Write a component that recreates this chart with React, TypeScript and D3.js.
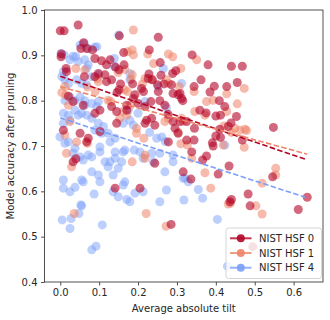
import React, { useEffect, useRef } from 'react';
import * as d3 from 'd3';

// points: [average absolute tilt, accuracy]
const hsf0: [number, number][] = [
  [0.0, 0.954], [0.01, 0.954], [0.046, 0.967], [0.152, 0.943], [0.252, 0.94],
  [0.06, 0.928], [0.053, 0.915], [0.068, 0.915], [0.083, 0.912],
  [0.002, 0.897], [0.003, 0.903], [0.015, 0.871], [0.016, 0.864],
  [0.089, 0.893], [0.106, 0.888], [0.128, 0.89], [0.119, 0.879],
  [0.163, 0.906], [0.229, 0.912], [0.142, 0.874], [0.164, 0.879], [0.151, 0.868],
  [0.098, 0.86], [0.115, 0.857], [0.089, 0.853], [0.062, 0.853],
  [0.257, 0.884], [0.297, 0.866], [0.289, 0.86],
  [0.228, 0.859], [0.226, 0.849], [0.237, 0.846], [0.259, 0.856], [0.267, 0.837],
  [0.186, 0.837], [0.155, 0.837], [0.151, 0.824], [0.146, 0.818],
  [0.209, 0.827], [0.214, 0.82], [0.25, 0.835], [0.252, 0.82],
  [0.233, 0.798], [0.256, 0.8], [0.286, 0.835], [0.29, 0.816], [0.303, 0.813], [0.312, 0.805],
  [0.021, 0.81], [0.188, 0.805], [0.192, 0.813], [0.119, 0.842], [0.132, 0.846],
  [0.033, 0.798], [0.059, 0.79], [0.089, 0.772], [0.102, 0.779], [0.132, 0.787],
  [0.145, 0.776], [0.145, 0.75], [0.171, 0.79], [0.171, 0.779], [0.2, 0.794],
  [0.218, 0.787], [0.222, 0.757], [0.218, 0.75], [0.235, 0.761], [0.243, 0.746],
  [0.269, 0.79], [0.277, 0.77], [0.29, 0.754], [0.295, 0.739], [0.303, 0.728],
  [0.308, 0.754], [0.278, 0.709], [0.008, 0.735], [0.051, 0.728], [0.102, 0.732],
  [0.072, 0.717], [0.068, 0.709], [0.033, 0.665], [0.04, 0.672], [0.243, 0.662],
  [0.141, 0.607], [0.205, 0.607], [0.316, 0.643], [0.285, 0.527],
  [0.339, 0.901], [0.38, 0.879], [0.44, 0.876], [0.468, 0.876], [0.362, 0.846],
  [0.344, 0.831], [0.396, 0.832], [0.428, 0.831], [0.455, 0.84], [0.385, 0.819],
  [0.308, 0.816], [0.315, 0.8], [0.409, 0.8], [0.423, 0.787], [0.4, 0.766],
  [0.412, 0.768], [0.359, 0.779], [0.375, 0.773], [0.453, 0.765], [0.439, 0.751],
  [0.432, 0.743], [0.345, 0.739], [0.548, 0.741], [0.325, 0.754], [0.4, 0.722],
  [0.412, 0.719], [0.468, 0.713], [0.325, 0.713], [0.344, 0.713], [0.391, 0.707],
  [0.41, 0.737], [0.393, 0.7], [0.338, 0.687], [0.376, 0.678], [0.366, 0.669],
  [0.434, 0.656], [0.336, 0.627], [0.406, 0.638], [0.546, 0.632], [0.483, 0.594],
  [0.44, 0.582], [0.436, 0.577], [0.488, 0.568], [0.612, 0.56], [0.635, 0.587],
  [0.495, 0.478],
];

const hsf1: [number, number][] = [
  [0.188, 0.956], [0.173, 0.908], [0.185, 0.912], [0.188, 0.901], [0.225, 0.903],
  [0.278, 0.903], [0.289, 0.897], [0.24, 0.882], [0.04, 0.871], [0.063, 0.868],
  [0.149, 0.862], [0.166, 0.869], [0.185, 0.857], [0.182, 0.847], [0.095, 0.849],
  [0.098, 0.842], [0.218, 0.849], [0.235, 0.846], [0.211, 0.837], [0.273, 0.846],
  [0.278, 0.838], [0.012, 0.831], [0.004, 0.818], [0.014, 0.812], [0.165, 0.824],
  [0.173, 0.82], [0.306, 0.831], [0.07, 0.83], [0.09, 0.82], [0.123, 0.801],
  [0.021, 0.79], [0.025, 0.754], [0.012, 0.724], [0.042, 0.709], [0.07, 0.706],
  [0.016, 0.684], [0.029, 0.654], [0.153, 0.761], [0.171, 0.768], [0.162, 0.776],
  [0.196, 0.739], [0.196, 0.728], [0.215, 0.717], [0.218, 0.68], [0.218, 0.673],
  [0.185, 0.665], [0.269, 0.754], [0.278, 0.761], [0.303, 0.73], [0.31, 0.705],
  [0.13, 0.798], [0.18, 0.79], [0.036, 0.551], [0.221, 0.551], [0.272, 0.523],
  [0.351, 0.89], [0.473, 0.827], [0.344, 0.82], [0.428, 0.815], [0.455, 0.793],
  [0.376, 0.798], [0.393, 0.801], [0.346, 0.776], [0.372, 0.768], [0.428, 0.776],
  [0.421, 0.744], [0.449, 0.739], [0.462, 0.735], [0.475, 0.737], [0.479, 0.734],
  [0.44, 0.73], [0.312, 0.761], [0.316, 0.754], [0.31, 0.871],
  [0.327, 0.702], [0.419, 0.702], [0.473, 0.697], [0.338, 0.673], [0.372, 0.641],
  [0.387, 0.607], [0.432, 0.572], [0.438, 0.574], [0.503, 0.568], [0.519, 0.55],
  [0.519, 0.618], [0.554, 0.651], [0.554, 0.636],
];

const hsf4: [number, number][] = [
  [0.15, 0.945], [0.002, 0.904], [0.01, 0.901], [0.033, 0.898], [0.04, 0.897],
  [0.051, 0.923], [0.062, 0.926], [0.072, 0.915], [0.089, 0.918], [0.094, 0.919],
  [0.025, 0.89], [0.046, 0.886], [0.063, 0.89], [0.072, 0.879], [0.068, 0.871],
  [0.008, 0.864], [0.004, 0.853], [0.012, 0.846], [0.021, 0.837], [0.042, 0.846],
  [0.055, 0.838], [0.068, 0.835], [0.081, 0.853], [0.098, 0.857], [0.139, 0.893],
  [0.139, 0.875], [0.179, 0.86], [0.179, 0.846], [0.265, 0.871], [0.252, 0.831],
  [0.312, 0.838], [0.012, 0.8], [0.025, 0.808], [0.038, 0.8], [0.051, 0.808],
  [0.063, 0.8], [0.218, 0.798],
  [0.008, 0.772], [0.021, 0.768], [0.025, 0.757], [0.008, 0.75], [0.038, 0.779],
  [0.046, 0.768], [0.055, 0.772], [0.068, 0.768], [0.081, 0.761], [0.063, 0.79],
  [0.081, 0.794], [0.094, 0.787], [0.098, 0.798], [0.098, 0.75], [0.111, 0.743],
  [0.089, 0.735], [0.106, 0.728], [0.123, 0.728], [0.141, 0.717], [0.128, 0.709],
  [0.162, 0.75], [0.179, 0.757], [0.188, 0.746], [0.2, 0.772], [0.175, 0.779],
  [-0.001, 0.72], [0.012, 0.706], [0.021, 0.709], [0.038, 0.695], [0.033, 0.684],
  [0.051, 0.676], [0.072, 0.68], [0.081, 0.676], [0.059, 0.669], [0.102, 0.698],
  [0.102, 0.687], [0.115, 0.665], [0.128, 0.665], [0.141, 0.673], [0.141, 0.687],
  [0.162, 0.687], [0.166, 0.691], [0.19, 0.691], [0.205, 0.687], [0.213, 0.673],
  [0.158, 0.665], [0.149, 0.651], [0.081, 0.643], [0.098, 0.636], [0.123, 0.654],
  [0.235, 0.684], [0.256, 0.684], [0.239, 0.665], [0.136, 0.636], [0.166, 0.621],
  [0.162, 0.614], [0.008, 0.625], [0.008, 0.607], [0.025, 0.599], [0.038, 0.609],
  [0.055, 0.625], [0.059, 0.621], [0.102, 0.621], [0.192, 0.596], [0.213, 0.599],
  [0.269, 0.643], [0.273, 0.603], [0.29, 0.68], [0.29, 0.665], [0.316, 0.629],
  [0.248, 0.717], [0.261, 0.72], [0.273, 0.785], [0.23, 0.73], [0.27, 0.71],
  [0.087, 0.594], [0.136, 0.599], [0.149, 0.588], [0.171, 0.582], [0.179, 0.577],
  [0.256, 0.577], [0.053, 0.57], [0.055, 0.568], [0.048, 0.551], [0.005, 0.537],
  [0.028, 0.54], [0.025, 0.518], [0.108, 0.526], [0.081, 0.471], [0.092, 0.479],
  [0.423, 0.702], [0.321, 0.629], [0.329, 0.621], [0.355, 0.604], [0.366, 0.585],
  [0.318, 0.581], [0.404, 0.538], [0.43, 0.435],
];

// dashed trend lines: [x, y] at both ends
const fit0: [number, number][] = [[0.0, 0.854], [0.63, 0.671]];
const fit1: [number, number][] = [[0.0, 0.831], [0.635, 0.682]];
const fit4: [number, number][] = [[0.0, 0.762], [0.63, 0.587]];

const seriesNames = ['NIST HSF 0', 'NIST HSF 1', 'NIST HSF 4'];
const seriesColors = ['#b40426', '#ee8468', '#7b9ff9'];
const dotOpacity = [0.6, 0.55, 0.5];

const xTicks = [0.0, 0.1, 0.2, 0.3, 0.4, 0.5, 0.6];
const yTicks = [0.4, 0.5, 0.6, 0.7, 0.8, 0.9, 1.0];

const App = () => {
  const ref = useRef<SVGSVGElement>(null);

  useEffect(() => {
    const width = 330;
    const height = 320;
    const margin = { top: 10, right: 7, bottom: 38, left: 44.5 };
    const font = 'DejaVu Sans, sans-serif';
    const ink = '#262626';

    const svg = d3.select(ref.current);
    svg.selectAll('*').remove();

    const x = d3.scaleLinear().domain([-0.0405, 0.6755]).range([margin.left, width - margin.right]);
    const y = d3.scaleLinear().domain([0.4, 1.0]).range([height - margin.bottom, margin.top]);

    const pts = [hsf0, hsf1, hsf4];
    const fits = [fit0, fit1, fit4];

    // scatter: blue at the bottom, red on top
    [2, 1, 0].forEach((i) => {
      svg.append('g')
        .selectAll('circle')
        .data(pts[i])
        .enter()
        .append('circle')
        .attr('cx', (d) => x(d[0]))
        .attr('cy', (d) => y(d[1]))
        .attr('r', 4.5)
        .attr('fill', seriesColors[i])
        .attr('fill-opacity', dotOpacity[i]);
    });

    const line = d3.line<[number, number]>().x((d) => x(d[0])).y((d) => y(d[1]));
    fits.forEach((f, i) => {
      svg.append('path')
        .attr('d', line(f))
        .attr('fill', 'none')
        .attr('stroke', seriesColors[i])
        .attr('stroke-width', 1.6)
        .attr('stroke-dasharray', '5.5,2.4');
    });

    // axes
    const xAxis = svg.append('g')
      .attr('transform', `translate(0,${height - margin.bottom})`)
      .call(d3.axisBottom(x).tickValues(xTicks).tickFormat(d3.format('.1f')).tickSizeOuter(0).tickSize(3.5).tickPadding(3.5));
    const yAxis = svg.append('g')
      .attr('transform', `translate(${margin.left},0)`)
      .call(d3.axisLeft(y).tickValues(yTicks).tickFormat(d3.format('.1f')).tickSizeOuter(0).tickSize(3.5).tickPadding(3.5));
    [xAxis, yAxis].forEach((ax) => {
      ax.select('.domain').remove();
      ax.selectAll('line').attr('stroke', ink).attr('stroke-width', 0.8);
      ax.selectAll('text').attr('fill', ink).style('font-family', font).style('font-size', '10px');
    });

    // frame
    svg.append('rect')
      .attr('x', margin.left)
      .attr('y', margin.top)
      .attr('width', width - margin.right - margin.left)
      .attr('height', height - margin.bottom - margin.top)
      .attr('fill', 'none')
      .attr('stroke', ink)
      .attr('stroke-width', 0.8);

    svg.append('text')
      .attr('x', (margin.left + width - margin.right) / 2)
      .attr('y', 312)
      .attr('text-anchor', 'middle')
      .style('font-family', font)
      .style('font-size', '10px')
      .attr('fill', ink)
      .text('Average absolute tilt');

    svg.append('text')
      .attr('transform', `translate(13.5,${(margin.top + height - margin.bottom) / 2}) rotate(-90)`)
      .attr('text-anchor', 'middle')
      .style('font-family', font)
      .style('font-size', '10px')
      .attr('fill', ink)
      .text('Model accuracy after pruning');

    // legend
    const lg = svg.append('g').attr('transform', 'translate(226,228)');
    lg.append('rect')
      .attr('width', 95.5)
      .attr('height', 50.5)
      .attr('rx', 2.5)
      .attr('fill', 'white')
      .attr('fill-opacity', 0.8)
      .attr('stroke', '#cccccc')
      .attr('stroke-width', 0.8);
    seriesNames.forEach((name, i) => {
      const row = lg.append('g').attr('transform', `translate(0,${10.3 + i * 14.7})`);
      row.append('line')
        .attr('x1', 4).attr('x2', 25.5)
        .attr('stroke', seriesColors[i])
        .attr('stroke-opacity', 0.8)
        .attr('stroke-width', 2);
      row.append('circle')
        .attr('cx', 14.8)
        .attr('r', 4)
        .attr('fill', seriesColors[i])
        .attr('fill-opacity', 0.9);
      row.append('text')
        .attr('x', 33)
        .attr('dy', '0.35em')
        .style('font-family', font)
        .style('font-size', '10px')
        .attr('fill', ink)
        .text(name);
    });
  }, []);

  return (
    <svg ref={ref} width={330} height={320} style={{ position: 'absolute', left: 0, top: 0, background: 'white' }} />
  );
};

export default App;
